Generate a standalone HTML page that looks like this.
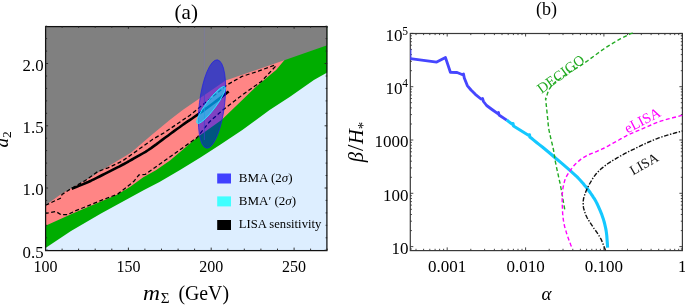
<!DOCTYPE html>
<html><head><meta charset="utf-8"><style>
html,body{margin:0;padding:0;background:#fff;}
svg{display:block;will-change:transform;}
text{font-family:"Liberation Serif",serif;}
</style></head><body>
<svg width="685" height="305" viewBox="0 0 685 305">
<rect x="45.5" y="26.2" width="281.7" height="224.5" fill="#ddeeff"/>
<polygon points="45.5,26.2 327.2,26.2 327.2,72.5 313.9,80.0 290.0,96.8 269.6,110.0 242.3,130.0 220.9,144.3 200.4,157.6 180.0,170.0 159.5,182.0 144.0,190.0 101.0,213.5 71.0,231.0 45.5,248.0" fill="#00ad00"/>
<polygon points="45.5,26.2 284.3,26.2 284.3,60.2 276.1,70.0 270.0,75.0 256.3,86.5 221.5,120.0 198.3,136.5 170.0,160.6 155.9,170.3 143.3,177.2 130.6,186.4 116.9,194.8 72.7,213.5 45.5,225.8" fill="#ff8585"/>
<polygon points="45.5,26.2 327.2,26.2 327.2,45.3 305.0,53.0 284.3,60.2 225.6,80.4 182.7,110.0 169.7,120.0 151.3,135.3 130.9,152.7 110.4,165.0 101.3,170.4 88.2,179.0 71.8,188.1 62.0,193.4 45.5,205.2" fill="#808080"/>
<polyline points="45.5,205.3 60.4,198.2 62.0,194.5 69.9,189.4 85.6,180.3 97.4,171.8 107.9,167.8 122.0,161.3 137.0,150.7 152.8,139.2 164.6,132.5 180.7,121.5 190.0,115.2 227.7,84.5 242.0,76.4 258.3,71.2 274.7,65.1 275.7,66.1 261.4,81.5 244.0,93.7 221.5,111.1 209.3,122.0 197.0,137.6 145.2,174.5 139.0,174.8 133.9,181.3 117.7,194.1 103.0,199.7 74.1,211.4 67.6,214.7 61.0,214.7 55.8,211.4 45.5,213.4" fill="none" stroke="#000" stroke-width="1.25" stroke-dasharray="4,2.5"/>
<polyline points="71.7,188.8 73.5,188.1 76.0,187.1 78.9,185.9 82.1,184.6 85.2,183.3 88.2,182.0 91.0,180.7 93.8,179.3 96.7,177.9 99.5,176.5 102.4,175.0 105.2,173.6 108.1,172.1 111.1,170.6 114.0,169.1 116.9,167.6 119.6,166.3 122.0,165.0 124.0,164.0 125.6,163.1 127.0,162.3 128.5,161.5 130.0,160.6 132.0,159.5 134.3,158.2 137.0,156.7 139.7,155.2 142.6,153.5 145.5,151.8 148.3,150.0 151.1,148.1 153.8,146.1 156.6,144.1 159.4,142.0 162.2,139.9 165.0,137.8 167.9,135.7 170.8,133.5 173.7,131.4 176.6,129.2 179.5,127.2 182.2,125.2 184.8,123.4 187.3,121.7 189.7,120.1 192.1,118.5 194.5,116.8 197.0,115.1 199.6,113.3 202.3,111.4 204.9,109.4 207.6,107.5 210.3,105.5 213.0,103.5 215.8,101.4 218.8,99.1 221.8,96.8 224.6,94.6 227.0,92.8 228.7,91.5" fill="none" stroke="#000" stroke-width="2.6" stroke-linecap="butt" stroke-linejoin="round"/>
<line x1="204.4" y1="26.2" x2="204.4" y2="140" stroke="#7a7aa0" stroke-width="0.7"/>
<ellipse cx="212" cy="104" rx="12.6" ry="44.5" transform="rotate(7 212 104)" fill="#0000ff" fill-opacity="0.5" stroke="#2020e0" stroke-width="0.9" stroke-opacity="0.8"/>
<ellipse cx="211" cy="105" rx="4.8" ry="22.8" transform="rotate(37 211 105)" fill="#00ffff" fill-opacity="0.5" stroke="#30e0ff" stroke-width="0.9"/>
<rect x="45.6" y="26.6" width="281.3" height="224" fill="none" stroke="#111" stroke-width="1.25"/>
<line x1="45.5" y1="250.2" x2="45.5" y2="247.6" stroke="#222" stroke-width="0.9"/>
<line x1="45.5" y1="26.2" x2="45.5" y2="28.8" stroke="#222" stroke-width="0.9"/>
<line x1="62.1" y1="250.2" x2="62.1" y2="248.6" stroke="#222" stroke-width="0.9"/>
<line x1="62.1" y1="26.2" x2="62.1" y2="27.8" stroke="#222" stroke-width="0.9"/>
<line x1="78.6" y1="250.2" x2="78.6" y2="248.6" stroke="#222" stroke-width="0.9"/>
<line x1="78.6" y1="26.2" x2="78.6" y2="27.8" stroke="#222" stroke-width="0.9"/>
<line x1="95.2" y1="250.2" x2="95.2" y2="248.6" stroke="#222" stroke-width="0.9"/>
<line x1="95.2" y1="26.2" x2="95.2" y2="27.8" stroke="#222" stroke-width="0.9"/>
<line x1="111.8" y1="250.2" x2="111.8" y2="248.6" stroke="#222" stroke-width="0.9"/>
<line x1="111.8" y1="26.2" x2="111.8" y2="27.8" stroke="#222" stroke-width="0.9"/>
<line x1="128.4" y1="250.2" x2="128.4" y2="247.6" stroke="#222" stroke-width="0.9"/>
<line x1="128.4" y1="26.2" x2="128.4" y2="28.8" stroke="#222" stroke-width="0.9"/>
<line x1="144.9" y1="250.2" x2="144.9" y2="248.6" stroke="#222" stroke-width="0.9"/>
<line x1="144.9" y1="26.2" x2="144.9" y2="27.8" stroke="#222" stroke-width="0.9"/>
<line x1="161.5" y1="250.2" x2="161.5" y2="248.6" stroke="#222" stroke-width="0.9"/>
<line x1="161.5" y1="26.2" x2="161.5" y2="27.8" stroke="#222" stroke-width="0.9"/>
<line x1="178.1" y1="250.2" x2="178.1" y2="248.6" stroke="#222" stroke-width="0.9"/>
<line x1="178.1" y1="26.2" x2="178.1" y2="27.8" stroke="#222" stroke-width="0.9"/>
<line x1="194.6" y1="250.2" x2="194.6" y2="248.6" stroke="#222" stroke-width="0.9"/>
<line x1="194.6" y1="26.2" x2="194.6" y2="27.8" stroke="#222" stroke-width="0.9"/>
<line x1="211.2" y1="250.2" x2="211.2" y2="247.6" stroke="#222" stroke-width="0.9"/>
<line x1="211.2" y1="26.2" x2="211.2" y2="28.8" stroke="#222" stroke-width="0.9"/>
<line x1="227.8" y1="250.2" x2="227.8" y2="248.6" stroke="#222" stroke-width="0.9"/>
<line x1="227.8" y1="26.2" x2="227.8" y2="27.8" stroke="#222" stroke-width="0.9"/>
<line x1="244.3" y1="250.2" x2="244.3" y2="248.6" stroke="#222" stroke-width="0.9"/>
<line x1="244.3" y1="26.2" x2="244.3" y2="27.8" stroke="#222" stroke-width="0.9"/>
<line x1="260.9" y1="250.2" x2="260.9" y2="248.6" stroke="#222" stroke-width="0.9"/>
<line x1="260.9" y1="26.2" x2="260.9" y2="27.8" stroke="#222" stroke-width="0.9"/>
<line x1="277.5" y1="250.2" x2="277.5" y2="248.6" stroke="#222" stroke-width="0.9"/>
<line x1="277.5" y1="26.2" x2="277.5" y2="27.8" stroke="#222" stroke-width="0.9"/>
<line x1="294.1" y1="250.2" x2="294.1" y2="247.6" stroke="#222" stroke-width="0.9"/>
<line x1="294.1" y1="26.2" x2="294.1" y2="28.8" stroke="#222" stroke-width="0.9"/>
<line x1="310.6" y1="250.2" x2="310.6" y2="248.6" stroke="#222" stroke-width="0.9"/>
<line x1="310.6" y1="26.2" x2="310.6" y2="27.8" stroke="#222" stroke-width="0.9"/>
<line x1="327.2" y1="250.2" x2="327.2" y2="248.6" stroke="#222" stroke-width="0.9"/>
<line x1="327.2" y1="26.2" x2="327.2" y2="27.8" stroke="#222" stroke-width="0.9"/>
<line x1="45.5" y1="250.2" x2="48.1" y2="250.2" stroke="#222" stroke-width="0.9"/>
<line x1="327.2" y1="250.2" x2="324.59999999999997" y2="250.2" stroke="#222" stroke-width="0.9"/>
<line x1="45.5" y1="237.8" x2="47.1" y2="237.8" stroke="#222" stroke-width="0.9"/>
<line x1="327.2" y1="237.8" x2="325.59999999999997" y2="237.8" stroke="#222" stroke-width="0.9"/>
<line x1="45.5" y1="225.3" x2="47.1" y2="225.3" stroke="#222" stroke-width="0.9"/>
<line x1="327.2" y1="225.3" x2="325.59999999999997" y2="225.3" stroke="#222" stroke-width="0.9"/>
<line x1="45.5" y1="212.9" x2="47.1" y2="212.9" stroke="#222" stroke-width="0.9"/>
<line x1="327.2" y1="212.9" x2="325.59999999999997" y2="212.9" stroke="#222" stroke-width="0.9"/>
<line x1="45.5" y1="200.4" x2="47.1" y2="200.4" stroke="#222" stroke-width="0.9"/>
<line x1="327.2" y1="200.4" x2="325.59999999999997" y2="200.4" stroke="#222" stroke-width="0.9"/>
<line x1="45.5" y1="188.0" x2="48.1" y2="188.0" stroke="#222" stroke-width="0.9"/>
<line x1="327.2" y1="188.0" x2="324.59999999999997" y2="188.0" stroke="#222" stroke-width="0.9"/>
<line x1="45.5" y1="175.5" x2="47.1" y2="175.5" stroke="#222" stroke-width="0.9"/>
<line x1="327.2" y1="175.5" x2="325.59999999999997" y2="175.5" stroke="#222" stroke-width="0.9"/>
<line x1="45.5" y1="163.1" x2="47.1" y2="163.1" stroke="#222" stroke-width="0.9"/>
<line x1="327.2" y1="163.1" x2="325.59999999999997" y2="163.1" stroke="#222" stroke-width="0.9"/>
<line x1="45.5" y1="150.6" x2="47.1" y2="150.6" stroke="#222" stroke-width="0.9"/>
<line x1="327.2" y1="150.6" x2="325.59999999999997" y2="150.6" stroke="#222" stroke-width="0.9"/>
<line x1="45.5" y1="138.2" x2="47.1" y2="138.2" stroke="#222" stroke-width="0.9"/>
<line x1="327.2" y1="138.2" x2="325.59999999999997" y2="138.2" stroke="#222" stroke-width="0.9"/>
<line x1="45.5" y1="125.8" x2="48.1" y2="125.8" stroke="#222" stroke-width="0.9"/>
<line x1="327.2" y1="125.8" x2="324.59999999999997" y2="125.8" stroke="#222" stroke-width="0.9"/>
<line x1="45.5" y1="113.3" x2="47.1" y2="113.3" stroke="#222" stroke-width="0.9"/>
<line x1="327.2" y1="113.3" x2="325.59999999999997" y2="113.3" stroke="#222" stroke-width="0.9"/>
<line x1="45.5" y1="100.9" x2="47.1" y2="100.9" stroke="#222" stroke-width="0.9"/>
<line x1="327.2" y1="100.9" x2="325.59999999999997" y2="100.9" stroke="#222" stroke-width="0.9"/>
<line x1="45.5" y1="88.4" x2="47.1" y2="88.4" stroke="#222" stroke-width="0.9"/>
<line x1="327.2" y1="88.4" x2="325.59999999999997" y2="88.4" stroke="#222" stroke-width="0.9"/>
<line x1="45.5" y1="76.0" x2="47.1" y2="76.0" stroke="#222" stroke-width="0.9"/>
<line x1="327.2" y1="76.0" x2="325.59999999999997" y2="76.0" stroke="#222" stroke-width="0.9"/>
<line x1="45.5" y1="63.5" x2="48.1" y2="63.5" stroke="#222" stroke-width="0.9"/>
<line x1="327.2" y1="63.5" x2="324.59999999999997" y2="63.5" stroke="#222" stroke-width="0.9"/>
<line x1="45.5" y1="51.1" x2="47.1" y2="51.1" stroke="#222" stroke-width="0.9"/>
<line x1="327.2" y1="51.1" x2="325.59999999999997" y2="51.1" stroke="#222" stroke-width="0.9"/>
<line x1="45.5" y1="38.6" x2="47.1" y2="38.6" stroke="#222" stroke-width="0.9"/>
<line x1="327.2" y1="38.6" x2="325.59999999999997" y2="38.6" stroke="#222" stroke-width="0.9"/>
<line x1="45.5" y1="26.2" x2="47.1" y2="26.2" stroke="#222" stroke-width="0.9"/>
<line x1="327.2" y1="26.2" x2="325.59999999999997" y2="26.2" stroke="#222" stroke-width="0.9"/>
<text x="45.5" y="272.3" font-family="Liberation Serif" font-size="16" text-anchor="middle">100</text>
<text x="128.4" y="272.3" font-family="Liberation Serif" font-size="16" text-anchor="middle">150</text>
<text x="211.2" y="272.3" font-family="Liberation Serif" font-size="16" text-anchor="middle">200</text>
<text x="294.1" y="272.3" font-family="Liberation Serif" font-size="16" text-anchor="middle">250</text>
<text x="43.6" y="257.6" font-family="Liberation Serif" font-size="16.8" text-anchor="end">0.5</text>
<text x="43.6" y="195.4" font-family="Liberation Serif" font-size="16.8" text-anchor="end">1.0</text>
<text x="43.6" y="133.2" font-family="Liberation Serif" font-size="16.8" text-anchor="end">1.5</text>
<text x="43.6" y="70.9" font-family="Liberation Serif" font-size="16.8" text-anchor="end">2.0</text>
<text x="174.6" y="19" font-family="Liberation Serif" font-size="21.5" textLength="23.4" lengthAdjust="spacingAndGlyphs">(a)</text>
<text x="143" y="300" font-family="Liberation Serif" font-size="20" font-style="italic" textLength="17" lengthAdjust="spacingAndGlyphs">m</text>
<text x="160.8" y="303" font-family="Liberation Serif" font-size="14" textLength="8.8" lengthAdjust="spacingAndGlyphs">Σ</text>
<text x="178.4" y="300" font-family="Liberation Serif" font-size="20" textLength="50.6" lengthAdjust="spacingAndGlyphs">(GeV)</text>
<text transform="translate(8 147.5) rotate(-90)" font-family="Liberation Serif" font-size="19"><tspan font-style="italic">a</tspan><tspan font-size="13.5" dy="3">2</tspan></text>
<rect x="217.2" y="173.5" width="13.8" height="10" fill="#4040ff"/>
<rect x="217.2" y="196.4" width="13.8" height="10" fill="#40ffff"/>
<rect x="217.2" y="220" width="13.8" height="10" fill="#000"/>
<text x="238.8" y="181.8" font-family="Liberation Serif" font-size="13">BMA (2<tspan font-style="italic">σ</tspan>)</text>
<text x="238.8" y="204.8" font-family="Liberation Serif" font-size="13">BMA′ (2<tspan font-style="italic">σ</tspan>)</text>
<text x="238.8" y="228.2" font-family="Liberation Serif" font-size="13" textLength="82.5" lengthAdjust="spacingAndGlyphs">LISA sensitivity</text>
<rect x="410.3" y="33.5" width="272.09999999999997" height="217.1" fill="none" stroke="#3a3a3a" stroke-width="1.2"/>
<line x1="416.0" y1="250.4" x2="416.0" y2="248.8" stroke="#333" stroke-width="0.9"/>
<line x1="416.0" y1="33.5" x2="416.0" y2="35.1" stroke="#333" stroke-width="0.9"/>
<line x1="423.6" y1="250.4" x2="423.6" y2="248.8" stroke="#333" stroke-width="0.9"/>
<line x1="423.6" y1="33.5" x2="423.6" y2="35.1" stroke="#333" stroke-width="0.9"/>
<line x1="429.8" y1="250.4" x2="429.8" y2="248.8" stroke="#333" stroke-width="0.9"/>
<line x1="429.8" y1="33.5" x2="429.8" y2="35.1" stroke="#333" stroke-width="0.9"/>
<line x1="435.1" y1="250.4" x2="435.1" y2="248.8" stroke="#333" stroke-width="0.9"/>
<line x1="435.1" y1="33.5" x2="435.1" y2="35.1" stroke="#333" stroke-width="0.9"/>
<line x1="439.6" y1="250.4" x2="439.6" y2="248.8" stroke="#333" stroke-width="0.9"/>
<line x1="439.6" y1="33.5" x2="439.6" y2="35.1" stroke="#333" stroke-width="0.9"/>
<line x1="443.6" y1="250.4" x2="443.6" y2="248.8" stroke="#333" stroke-width="0.9"/>
<line x1="443.6" y1="33.5" x2="443.6" y2="35.1" stroke="#333" stroke-width="0.9"/>
<line x1="447.2" y1="250.4" x2="447.2" y2="247.4" stroke="#333" stroke-width="0.9"/>
<line x1="447.2" y1="33.5" x2="447.2" y2="36.5" stroke="#333" stroke-width="0.9"/>
<line x1="470.8" y1="250.4" x2="470.8" y2="248.8" stroke="#333" stroke-width="0.9"/>
<line x1="470.8" y1="33.5" x2="470.8" y2="35.1" stroke="#333" stroke-width="0.9"/>
<line x1="484.6" y1="250.4" x2="484.6" y2="248.8" stroke="#333" stroke-width="0.9"/>
<line x1="484.6" y1="33.5" x2="484.6" y2="35.1" stroke="#333" stroke-width="0.9"/>
<line x1="494.4" y1="250.4" x2="494.4" y2="248.8" stroke="#333" stroke-width="0.9"/>
<line x1="494.4" y1="33.5" x2="494.4" y2="35.1" stroke="#333" stroke-width="0.9"/>
<line x1="502.0" y1="250.4" x2="502.0" y2="248.8" stroke="#333" stroke-width="0.9"/>
<line x1="502.0" y1="33.5" x2="502.0" y2="35.1" stroke="#333" stroke-width="0.9"/>
<line x1="508.2" y1="250.4" x2="508.2" y2="248.8" stroke="#333" stroke-width="0.9"/>
<line x1="508.2" y1="33.5" x2="508.2" y2="35.1" stroke="#333" stroke-width="0.9"/>
<line x1="513.4" y1="250.4" x2="513.4" y2="248.8" stroke="#333" stroke-width="0.9"/>
<line x1="513.4" y1="33.5" x2="513.4" y2="35.1" stroke="#333" stroke-width="0.9"/>
<line x1="518.0" y1="250.4" x2="518.0" y2="248.8" stroke="#333" stroke-width="0.9"/>
<line x1="518.0" y1="33.5" x2="518.0" y2="35.1" stroke="#333" stroke-width="0.9"/>
<line x1="522.0" y1="250.4" x2="522.0" y2="248.8" stroke="#333" stroke-width="0.9"/>
<line x1="522.0" y1="33.5" x2="522.0" y2="35.1" stroke="#333" stroke-width="0.9"/>
<line x1="525.6" y1="250.4" x2="525.6" y2="247.4" stroke="#333" stroke-width="0.9"/>
<line x1="525.6" y1="33.5" x2="525.6" y2="36.5" stroke="#333" stroke-width="0.9"/>
<line x1="549.2" y1="250.4" x2="549.2" y2="248.8" stroke="#333" stroke-width="0.9"/>
<line x1="549.2" y1="33.5" x2="549.2" y2="35.1" stroke="#333" stroke-width="0.9"/>
<line x1="563.0" y1="250.4" x2="563.0" y2="248.8" stroke="#333" stroke-width="0.9"/>
<line x1="563.0" y1="33.5" x2="563.0" y2="35.1" stroke="#333" stroke-width="0.9"/>
<line x1="572.8" y1="250.4" x2="572.8" y2="248.8" stroke="#333" stroke-width="0.9"/>
<line x1="572.8" y1="33.5" x2="572.8" y2="35.1" stroke="#333" stroke-width="0.9"/>
<line x1="580.4" y1="250.4" x2="580.4" y2="248.8" stroke="#333" stroke-width="0.9"/>
<line x1="580.4" y1="33.5" x2="580.4" y2="35.1" stroke="#333" stroke-width="0.9"/>
<line x1="586.6" y1="250.4" x2="586.6" y2="248.8" stroke="#333" stroke-width="0.9"/>
<line x1="586.6" y1="33.5" x2="586.6" y2="35.1" stroke="#333" stroke-width="0.9"/>
<line x1="591.8" y1="250.4" x2="591.8" y2="248.8" stroke="#333" stroke-width="0.9"/>
<line x1="591.8" y1="33.5" x2="591.8" y2="35.1" stroke="#333" stroke-width="0.9"/>
<line x1="596.3" y1="250.4" x2="596.3" y2="248.8" stroke="#333" stroke-width="0.9"/>
<line x1="596.3" y1="33.5" x2="596.3" y2="35.1" stroke="#333" stroke-width="0.9"/>
<line x1="600.4" y1="250.4" x2="600.4" y2="248.8" stroke="#333" stroke-width="0.9"/>
<line x1="600.4" y1="33.5" x2="600.4" y2="35.1" stroke="#333" stroke-width="0.9"/>
<line x1="603.9" y1="250.4" x2="603.9" y2="247.4" stroke="#333" stroke-width="0.9"/>
<line x1="603.9" y1="33.5" x2="603.9" y2="36.5" stroke="#333" stroke-width="0.9"/>
<line x1="627.5" y1="250.4" x2="627.5" y2="248.8" stroke="#333" stroke-width="0.9"/>
<line x1="627.5" y1="33.5" x2="627.5" y2="35.1" stroke="#333" stroke-width="0.9"/>
<line x1="641.3" y1="250.4" x2="641.3" y2="248.8" stroke="#333" stroke-width="0.9"/>
<line x1="641.3" y1="33.5" x2="641.3" y2="35.1" stroke="#333" stroke-width="0.9"/>
<line x1="651.1" y1="250.4" x2="651.1" y2="248.8" stroke="#333" stroke-width="0.9"/>
<line x1="651.1" y1="33.5" x2="651.1" y2="35.1" stroke="#333" stroke-width="0.9"/>
<line x1="658.7" y1="250.4" x2="658.7" y2="248.8" stroke="#333" stroke-width="0.9"/>
<line x1="658.7" y1="33.5" x2="658.7" y2="35.1" stroke="#333" stroke-width="0.9"/>
<line x1="664.9" y1="250.4" x2="664.9" y2="248.8" stroke="#333" stroke-width="0.9"/>
<line x1="664.9" y1="33.5" x2="664.9" y2="35.1" stroke="#333" stroke-width="0.9"/>
<line x1="670.2" y1="250.4" x2="670.2" y2="248.8" stroke="#333" stroke-width="0.9"/>
<line x1="670.2" y1="33.5" x2="670.2" y2="35.1" stroke="#333" stroke-width="0.9"/>
<line x1="674.7" y1="250.4" x2="674.7" y2="248.8" stroke="#333" stroke-width="0.9"/>
<line x1="674.7" y1="33.5" x2="674.7" y2="35.1" stroke="#333" stroke-width="0.9"/>
<line x1="678.7" y1="250.4" x2="678.7" y2="248.8" stroke="#333" stroke-width="0.9"/>
<line x1="678.7" y1="33.5" x2="678.7" y2="35.1" stroke="#333" stroke-width="0.9"/>
<line x1="682.3" y1="250.4" x2="682.3" y2="247.4" stroke="#333" stroke-width="0.9"/>
<line x1="682.3" y1="33.5" x2="682.3" y2="36.5" stroke="#333" stroke-width="0.9"/>
<line x1="410.3" y1="249.0" x2="411.90000000000003" y2="249.0" stroke="#333" stroke-width="0.9"/>
<line x1="682.4" y1="249.0" x2="680.8" y2="249.0" stroke="#333" stroke-width="0.9"/>
<line x1="410.3" y1="246.6" x2="413.3" y2="246.6" stroke="#333" stroke-width="0.9"/>
<line x1="682.4" y1="246.6" x2="679.4" y2="246.6" stroke="#333" stroke-width="0.9"/>
<line x1="410.3" y1="230.6" x2="411.90000000000003" y2="230.6" stroke="#333" stroke-width="0.9"/>
<line x1="682.4" y1="230.6" x2="680.8" y2="230.6" stroke="#333" stroke-width="0.9"/>
<line x1="410.3" y1="221.2" x2="411.90000000000003" y2="221.2" stroke="#333" stroke-width="0.9"/>
<line x1="682.4" y1="221.2" x2="680.8" y2="221.2" stroke="#333" stroke-width="0.9"/>
<line x1="410.3" y1="214.5" x2="411.90000000000003" y2="214.5" stroke="#333" stroke-width="0.9"/>
<line x1="682.4" y1="214.5" x2="680.8" y2="214.5" stroke="#333" stroke-width="0.9"/>
<line x1="410.3" y1="209.3" x2="411.90000000000003" y2="209.3" stroke="#333" stroke-width="0.9"/>
<line x1="682.4" y1="209.3" x2="680.8" y2="209.3" stroke="#333" stroke-width="0.9"/>
<line x1="410.3" y1="205.1" x2="411.90000000000003" y2="205.1" stroke="#333" stroke-width="0.9"/>
<line x1="682.4" y1="205.1" x2="680.8" y2="205.1" stroke="#333" stroke-width="0.9"/>
<line x1="410.3" y1="201.6" x2="411.90000000000003" y2="201.6" stroke="#333" stroke-width="0.9"/>
<line x1="682.4" y1="201.6" x2="680.8" y2="201.6" stroke="#333" stroke-width="0.9"/>
<line x1="410.3" y1="198.5" x2="411.90000000000003" y2="198.5" stroke="#333" stroke-width="0.9"/>
<line x1="682.4" y1="198.5" x2="680.8" y2="198.5" stroke="#333" stroke-width="0.9"/>
<line x1="410.3" y1="195.7" x2="411.90000000000003" y2="195.7" stroke="#333" stroke-width="0.9"/>
<line x1="682.4" y1="195.7" x2="680.8" y2="195.7" stroke="#333" stroke-width="0.9"/>
<line x1="410.3" y1="193.3" x2="413.3" y2="193.3" stroke="#333" stroke-width="0.9"/>
<line x1="682.4" y1="193.3" x2="679.4" y2="193.3" stroke="#333" stroke-width="0.9"/>
<line x1="410.3" y1="177.3" x2="411.90000000000003" y2="177.3" stroke="#333" stroke-width="0.9"/>
<line x1="682.4" y1="177.3" x2="680.8" y2="177.3" stroke="#333" stroke-width="0.9"/>
<line x1="410.3" y1="167.9" x2="411.90000000000003" y2="167.9" stroke="#333" stroke-width="0.9"/>
<line x1="682.4" y1="167.9" x2="680.8" y2="167.9" stroke="#333" stroke-width="0.9"/>
<line x1="410.3" y1="161.2" x2="411.90000000000003" y2="161.2" stroke="#333" stroke-width="0.9"/>
<line x1="682.4" y1="161.2" x2="680.8" y2="161.2" stroke="#333" stroke-width="0.9"/>
<line x1="410.3" y1="156.0" x2="411.90000000000003" y2="156.0" stroke="#333" stroke-width="0.9"/>
<line x1="682.4" y1="156.0" x2="680.8" y2="156.0" stroke="#333" stroke-width="0.9"/>
<line x1="410.3" y1="151.8" x2="411.90000000000003" y2="151.8" stroke="#333" stroke-width="0.9"/>
<line x1="682.4" y1="151.8" x2="680.8" y2="151.8" stroke="#333" stroke-width="0.9"/>
<line x1="410.3" y1="148.3" x2="411.90000000000003" y2="148.3" stroke="#333" stroke-width="0.9"/>
<line x1="682.4" y1="148.3" x2="680.8" y2="148.3" stroke="#333" stroke-width="0.9"/>
<line x1="410.3" y1="145.2" x2="411.90000000000003" y2="145.2" stroke="#333" stroke-width="0.9"/>
<line x1="682.4" y1="145.2" x2="680.8" y2="145.2" stroke="#333" stroke-width="0.9"/>
<line x1="410.3" y1="142.4" x2="411.90000000000003" y2="142.4" stroke="#333" stroke-width="0.9"/>
<line x1="682.4" y1="142.4" x2="680.8" y2="142.4" stroke="#333" stroke-width="0.9"/>
<line x1="410.3" y1="140.0" x2="413.3" y2="140.0" stroke="#333" stroke-width="0.9"/>
<line x1="682.4" y1="140.0" x2="679.4" y2="140.0" stroke="#333" stroke-width="0.9"/>
<line x1="410.3" y1="124.0" x2="411.90000000000003" y2="124.0" stroke="#333" stroke-width="0.9"/>
<line x1="682.4" y1="124.0" x2="680.8" y2="124.0" stroke="#333" stroke-width="0.9"/>
<line x1="410.3" y1="114.6" x2="411.90000000000003" y2="114.6" stroke="#333" stroke-width="0.9"/>
<line x1="682.4" y1="114.6" x2="680.8" y2="114.6" stroke="#333" stroke-width="0.9"/>
<line x1="410.3" y1="107.9" x2="411.90000000000003" y2="107.9" stroke="#333" stroke-width="0.9"/>
<line x1="682.4" y1="107.9" x2="680.8" y2="107.9" stroke="#333" stroke-width="0.9"/>
<line x1="410.3" y1="102.7" x2="411.90000000000003" y2="102.7" stroke="#333" stroke-width="0.9"/>
<line x1="682.4" y1="102.7" x2="680.8" y2="102.7" stroke="#333" stroke-width="0.9"/>
<line x1="410.3" y1="98.5" x2="411.90000000000003" y2="98.5" stroke="#333" stroke-width="0.9"/>
<line x1="682.4" y1="98.5" x2="680.8" y2="98.5" stroke="#333" stroke-width="0.9"/>
<line x1="410.3" y1="95.0" x2="411.90000000000003" y2="95.0" stroke="#333" stroke-width="0.9"/>
<line x1="682.4" y1="95.0" x2="680.8" y2="95.0" stroke="#333" stroke-width="0.9"/>
<line x1="410.3" y1="91.9" x2="411.90000000000003" y2="91.9" stroke="#333" stroke-width="0.9"/>
<line x1="682.4" y1="91.9" x2="680.8" y2="91.9" stroke="#333" stroke-width="0.9"/>
<line x1="410.3" y1="89.1" x2="411.90000000000003" y2="89.1" stroke="#333" stroke-width="0.9"/>
<line x1="682.4" y1="89.1" x2="680.8" y2="89.1" stroke="#333" stroke-width="0.9"/>
<line x1="410.3" y1="86.7" x2="413.3" y2="86.7" stroke="#333" stroke-width="0.9"/>
<line x1="682.4" y1="86.7" x2="679.4" y2="86.7" stroke="#333" stroke-width="0.9"/>
<line x1="410.3" y1="70.7" x2="411.90000000000003" y2="70.7" stroke="#333" stroke-width="0.9"/>
<line x1="682.4" y1="70.7" x2="680.8" y2="70.7" stroke="#333" stroke-width="0.9"/>
<line x1="410.3" y1="61.3" x2="411.90000000000003" y2="61.3" stroke="#333" stroke-width="0.9"/>
<line x1="682.4" y1="61.3" x2="680.8" y2="61.3" stroke="#333" stroke-width="0.9"/>
<line x1="410.3" y1="54.6" x2="411.90000000000003" y2="54.6" stroke="#333" stroke-width="0.9"/>
<line x1="682.4" y1="54.6" x2="680.8" y2="54.6" stroke="#333" stroke-width="0.9"/>
<line x1="410.3" y1="49.4" x2="411.90000000000003" y2="49.4" stroke="#333" stroke-width="0.9"/>
<line x1="682.4" y1="49.4" x2="680.8" y2="49.4" stroke="#333" stroke-width="0.9"/>
<line x1="410.3" y1="45.2" x2="411.90000000000003" y2="45.2" stroke="#333" stroke-width="0.9"/>
<line x1="682.4" y1="45.2" x2="680.8" y2="45.2" stroke="#333" stroke-width="0.9"/>
<line x1="410.3" y1="41.7" x2="411.90000000000003" y2="41.7" stroke="#333" stroke-width="0.9"/>
<line x1="682.4" y1="41.7" x2="680.8" y2="41.7" stroke="#333" stroke-width="0.9"/>
<line x1="410.3" y1="38.6" x2="411.90000000000003" y2="38.6" stroke="#333" stroke-width="0.9"/>
<line x1="682.4" y1="38.6" x2="680.8" y2="38.6" stroke="#333" stroke-width="0.9"/>
<line x1="410.3" y1="35.8" x2="411.90000000000003" y2="35.8" stroke="#333" stroke-width="0.9"/>
<line x1="682.4" y1="35.8" x2="680.8" y2="35.8" stroke="#333" stroke-width="0.9"/>
<line x1="410.3" y1="33.4" x2="413.3" y2="33.4" stroke="#333" stroke-width="0.9"/>
<line x1="682.4" y1="33.4" x2="679.4" y2="33.4" stroke="#333" stroke-width="0.9"/>
<text x="447.2" y="271.8" font-family="Liberation Serif" font-size="17" text-anchor="middle">0.001</text>
<text x="525.6" y="271.8" font-family="Liberation Serif" font-size="17" text-anchor="middle">0.010</text>
<text x="603.9" y="271.8" font-family="Liberation Serif" font-size="17" text-anchor="middle">0.100</text>
<text x="682.3" y="271.8" font-family="Liberation Serif" font-size="17" text-anchor="middle">1</text>
<text x="408.4" y="253.9" font-family="Liberation Serif" font-size="17" text-anchor="end">10</text>
<text x="408.4" y="200.6" font-family="Liberation Serif" font-size="17" text-anchor="end">100</text>
<text x="408.4" y="147.3" font-family="Liberation Serif" font-size="17" text-anchor="end">1000</text>
<text x="402.5" y="94.0" font-family="Liberation Serif" font-size="17" text-anchor="end">10</text>
<text x="402.3" y="87.3" font-family="Liberation Serif" font-size="11.5">4</text>
<text x="402.5" y="40.9" font-family="Liberation Serif" font-size="17" text-anchor="end">10</text>
<text x="402.3" y="34.9" font-family="Liberation Serif" font-size="11.5">5</text>
<text x="546.6" y="14.8" font-family="Liberation Serif" font-size="18" text-anchor="middle">(b)</text>
<text x="546.6" y="300" font-family="Liberation Serif" font-size="19" font-style="italic" text-anchor="middle">α</text>
<text transform="translate(362.5 142) rotate(-90)" font-family="Liberation Serif" font-size="20.5" text-anchor="middle"><tspan font-style="italic">β</tspan><tspan font-size="23" dx="1">/</tspan><tspan font-style="italic" dx="0.5">H</tspan><tspan font-size="15" dy="5">*</tspan></text>
<line x1="410.8" y1="49.4" x2="410.8" y2="58.6" stroke="#4848f0" stroke-width="1.2"/>
<polyline points="410.3,58.6 436.7,62.1 445.5,57.6 450.4,72.3 457.1,72.5 462.0,74.5 463.5,74.0 464.3,78.0 467.3,85.6 471.0,90.0 475.3,94.3 481.0,99.0 482.5,98.5 483.5,101.5 486.6,105.5 492.0,109.5 497.8,113.7 498.5,112.5 499.0,115.0 506.7,120.1" fill="none" stroke="#4646ff" stroke-width="2.85" stroke-linejoin="round"/>
<polyline points="506.7,120.1 512.0,124.0 513.0,123.5 513.5,126.0 528.0,135.0 529.5,134.8 529.8,137.0 529.8,137.0 531.5,138.3 533.7,140.1 536.3,142.2 539.3,144.6 542.7,147.3 546.3,150.3 550.5,153.8 555.4,158.0 560.7,162.4 565.9,166.9 570.5,170.9 574.3,174.3 577.1,176.9 579.1,179.0 580.7,180.7 582.0,182.2 583.2,183.6 584.5,185.2 585.9,186.8 587.1,188.4 588.3,190.0 589.4,191.5 590.5,193.0 591.5,194.5 592.5,195.9 593.4,197.3 594.3,198.6 595.1,200.0 596.0,201.6 597.0,203.5 598.1,205.8 599.2,208.4 600.4,211.2 601.6,214.1 602.6,217.0 603.5,219.6 604.2,222.0 604.8,224.4 605.3,226.6 605.8,228.9 606.2,231.1 606.5,233.4 606.8,235.9 607.0,238.6 607.2,241.4 607.4,243.9 607.5,246.1 607.6,247.6" fill="none" stroke="#14c8ff" stroke-width="3.1" stroke-linejoin="round"/>
<polyline points="564.7,209.3 564.3,206.9 563.7,203.5 563.0,199.6 562.3,195.3 561.5,190.9 560.7,186.8 559.9,182.7 558.9,178.3 558.0,173.9 557.0,169.6 556.2,165.7 555.5,162.3 555.0,159.6 554.7,157.6 554.5,155.8 554.2,154.2 553.9,152.3 553.5,150.0 552.9,147.1 552.1,143.7 551.2,140.2 550.4,136.7 549.7,133.4 549.1,130.7 548.7,128.6 548.5,127.1 548.4,125.9 548.2,124.6 548.1,123.0 547.9,120.9 547.6,117.9 547.2,114.2 546.8,110.1 546.4,106.2 546.0,102.8 545.8,100.4 545.7,99.1 545.6,98.8 545.5,99.0 545.6,99.3 545.7,99.4 546.0,98.8 546.3,97.6 546.7,96.0 547.3,94.1 547.9,92.2 548.7,90.3 549.7,88.5 550.8,86.9 552.0,85.5 553.3,84.1 554.9,82.6 556.9,80.9 559.5,79.0 562.8,76.7 566.8,74.1 571.2,71.4 575.7,68.6 580.1,65.8 584.1,63.2 587.7,60.7 591.2,58.1 594.6,55.7 597.8,53.3 600.9,51.0 603.8,49.0 606.5,47.2 608.9,45.6 611.1,44.2 613.4,42.9 615.6,41.6 618.0,40.2 620.7,38.7 623.7,37.2 626.8,35.7 629.6,34.2 632.1,33.1 633.8,32.2" fill="none" stroke="#22aa22" stroke-width="1.4" stroke-dasharray="4,2.5"/>
<polyline points="571.4,246.5 570.8,245.0 570.1,243.0 569.1,240.5 568.2,237.9 567.3,235.4 566.5,233.0 565.9,230.9 565.3,228.8 564.7,226.7 564.2,224.6 563.8,222.5 563.4,220.2 563.1,217.8 562.8,215.2 562.6,212.6 562.5,210.0 562.4,207.4 562.3,205.0 562.2,202.7 562.2,200.5 562.2,198.3 562.2,196.2 562.3,194.1 562.5,192.0 562.7,189.9 563.0,187.9 563.4,185.9 563.8,183.9 564.3,182.1 564.8,180.3 565.4,178.7 566.1,177.1 566.9,175.7 567.7,174.3 568.6,172.9 569.5,171.5 570.5,170.0 571.6,168.6 572.7,167.1 573.9,165.7 575.2,164.3 576.5,163.0 577.9,161.8 579.3,160.6 580.7,159.4 582.2,158.3 583.8,157.3 585.5,156.3 587.3,155.4 589.2,154.5 591.2,153.7 593.2,152.9 595.2,152.1 597.0,151.3 598.7,150.5 600.2,149.8 601.7,149.2 603.2,148.5 604.8,147.7 606.5,146.8 608.4,145.8 610.5,144.6 612.7,143.4 614.9,142.2 616.9,141.0 618.8,140.0 620.3,139.1 621.6,138.4 622.8,137.7 624.0,137.0 625.4,136.3 627.1,135.4 629.2,134.4 631.5,133.4 634.0,132.3 636.7,131.1 639.4,130.0 642.2,128.8 645.0,127.6 648.0,126.3 651.0,125.0 654.1,123.6 657.3,122.4 660.6,121.2 664.3,120.0 668.4,118.9 672.7,117.8 676.6,116.8 680.0,115.9 682.4,115.3" fill="none" stroke="#ff00ff" stroke-width="1.4" stroke-dasharray="4,2.5"/>
<polyline points="605.5,250.4 605.0,249.1 604.3,247.3 603.5,245.1 602.6,242.8 601.6,240.4 600.6,238.3 599.4,236.3 598.1,234.2 596.7,232.2 595.3,230.2 593.9,228.3 592.7,226.5 591.6,224.8 590.5,223.2 589.5,221.7 588.6,220.2 587.8,218.9 587.0,217.5 586.4,216.2 585.8,215.0 585.4,213.8 585.0,212.7 584.6,211.6 584.3,210.5 584.0,209.5 583.7,208.6 583.5,207.7 583.4,206.8 583.3,205.9 583.2,204.8 583.2,203.7 583.2,202.5 583.2,201.2 583.4,199.9 583.6,198.5 584.0,197.0 584.5,195.4 585.1,193.6 585.8,191.8 586.6,189.9 587.5,187.9 588.5,186.0 589.5,184.0 590.7,182.0 591.9,179.9 593.2,177.8 594.6,175.8 596.0,174.0 597.5,172.3 599.0,170.8 600.6,169.3 602.3,167.9 604.1,166.4 606.0,165.0 608.0,163.5 610.2,162.1 612.4,160.7 614.8,159.3 617.1,157.9 619.5,156.5 621.9,155.2 624.2,153.9 626.6,152.7 629.1,151.4 631.7,150.1 634.5,148.8 637.5,147.3 640.9,145.7 644.3,144.1 647.7,142.5 651.0,141.1 653.9,139.8 656.5,138.8 658.8,137.9 660.9,137.2 663.0,136.5 665.1,135.9 667.4,135.2 670.0,134.4 672.8,133.6 675.7,132.8 678.5,132.1 680.8,131.5 682.4,131.0" fill="none" stroke="#111" stroke-width="1.4" stroke-dasharray="4.5,1.6,1.4,1.6"/>
<text transform="translate(541.5 94) rotate(-36)" font-family="Liberation Serif" font-size="14.5" fill="#22aa22">DECIGO</text>
<text transform="translate(627.5 133.5) rotate(-27.5)" font-family="Liberation Serif" font-size="14.5" fill="#ff00ff">eLISA</text>
<text transform="translate(633 175.5) rotate(-30)" font-family="Liberation Serif" font-size="13.8" fill="#111">LISA</text>
</svg></body></html>
